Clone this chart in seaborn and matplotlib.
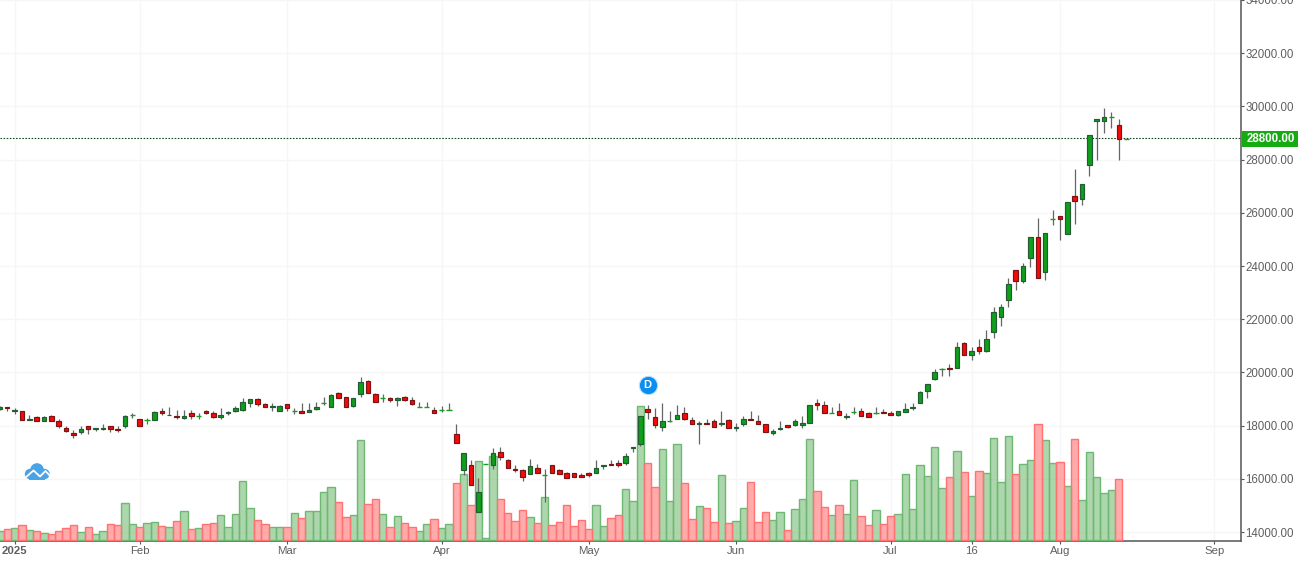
import matplotlib
matplotlib.use("Agg")
import matplotlib.pyplot as plt
from matplotlib.patches import Circle, Rectangle
import numpy as np
import pandas as pd
import seaborn as sns

first_session = -2
opens = [
    18630,18700,18540,18550,18200,18330,18160,18360,18180,17910,
    17720,17770,17990,17860,17860,17990,17870,17970,18380,18250,
    18210,18200,18550,18390,18360,18300,18480,18360,18550,18480,
    18310,18460,18550,18580,18850,19000,18820,18690,18540,18820,
    18550,18550,18500,18640,18840,18700,19230,19080,18730,19180,
    19680,19190,19030,19040,18970,19080,18970,18700,18700,18590,
    18600,18600,17690,16320,16520,14750,16550,16510,17010,16710,
    16380,16330,16180,16410,16140,16510,16330,16220,16210,16140,
    16220,16220,16470,16560,16600,16580,17150,17300,18630,18330,
    17940,18160,18240,18480,18210,18050,18100,18180,18050,18210,
    17900,18060,18250,18180,18050,17720,17860,18030,18010,18010,
    18100,18850,18780,18480,18550,18310,18510,18550,18480,18480,
    18510,18480,18400,18510,18650,18850,19300,19760,20110,20150,
    20170,21090,20660,20940,20810,21530,22090,22730,23830,23450,
    24300,25070,23780,25780,25860,25210,26610,26520,27800,29460,
    29460,29590,29290,28770,
]
highs = [
    18730,18700,18660,18550,18380,18350,18350,18380,18230,18000,
    17840,17970,17990,17910,18040,17990,17990,18380,18480,18250,
    18290,18540,18660,18680,18580,18600,18580,18480,18590,18560,
    18660,18560,18750,19040,19000,19040,18850,18830,18790,18820,
    18660,18830,18830,18890,19080,19200,19250,19080,19040,19830,
    19730,19230,19170,19070,19080,19100,19080,18890,18870,18700,
    18730,18830,18040,16960,16720,16030,16550,17160,17200,16750,
    16530,16350,16760,16570,16350,16510,16380,16260,16210,16220,
    16260,16720,16520,16720,16720,16970,17200,18350,18790,18670,
    18830,18530,18790,18680,18340,18190,18250,18250,18530,18250,
    18100,18360,18530,18380,18050,17880,18190,18030,18250,18360,
    18780,18980,18930,18700,18830,18480,18700,18670,18510,18700,
    18630,18550,18550,18830,18830,19300,19570,20110,20180,20310,
    21140,21140,20940,21250,21590,22450,22550,23550,23830,24100,
    25100,25800,25220,26100,25860,26390,27640,27060,28910,29510,
    29940,29790,29520,28770,
]
lows = [
    18580,18540,18430,18200,18200,18160,18160,18160,17920,17750,
    17550,17700,17700,17810,17850,17740,17750,17890,18280,17970,
    18040,18200,18410,18380,18230,18260,18260,18260,18440,18290,
    18230,18410,18500,18540,18680,18730,18690,18540,18540,18560,
    18430,18460,18500,18600,18760,18700,19020,18700,18690,19080,
    19220,18890,18890,18890,18730,18920,18770,18690,18690,18480,
    18510,18580,17350,16160,15770,14750,16550,16350,16720,16410,
    16250,15910,16180,16210,15120,16210,16170,16030,16070,16070,
    16060,16220,16360,16510,16450,16510,17000,17250,18230,17910,
    17790,18130,18230,18200,18060,17290,18050,17950,17980,17910,
    17780,17980,18200,18050,17750,17640,17830,17910,18000,17900,
    18100,18580,18460,18460,18390,18240,18440,18360,18310,18430,
    18460,18400,18350,18510,18580,18850,19030,19710,19860,19860,
    20170,20660,20460,20680,20760,21290,21740,22450,23090,23370,
    23970,23530,23470,25530,24980,25210,25570,26290,27380,27990,
    29000,29180,27990,28770,
]
closes = [
    18680,18650,18600,18200,18250,18160,18310,18160,17970,17790,
    17640,17870,17860,17910,17890,17860,17820,18360,18380,17970,
    18210,18510,18490,18410,18310,18360,18350,18360,18460,18310,
    18400,18510,18660,18890,19000,18800,18690,18750,18740,18650,
    18550,18460,18600,18710,18840,19140,19040,18700,19040,19640,
    19220,18890,19030,18970,19040,18970,18820,18700,18700,18480,
    18600,18600,17350,16960,15770,15500,16550,16960,16810,16410,
    16320,16070,16470,16210,16140,16210,16170,16030,16070,16070,
    16130,16410,16520,16510,16510,16860,17200,18350,18510,18030,
    18180,18160,18400,18240,18060,18100,18050,17950,18100,17910,
    17950,18250,18200,18050,17750,17800,17910,17940,18180,18100,
    18780,18770,18460,18480,18390,18360,18510,18360,18310,18480,
    18460,18400,18550,18630,18700,19270,19570,20020,20110,20110,
    20940,20660,20790,20810,21270,22250,22440,23310,23450,23990,
    25070,23550,25220,25780,25770,26390,26450,27060,28910,29510,
    29590,29590,28750,28770,
]
volumes = [
    26,32,35,44,29,26,20,17,26,35,
    44,23,38,17,26,47,44,110,47,38,
    50,53,41,38,56,86,32,35,47,50,
    74,38,77,176,95,59,47,38,38,38,
    80,65,86,86,143,158,113,68,74,299,
    107,122,77,38,71,50,38,26,47,62,
    35,47,170,197,104,236,5,251,122,80,
    56,89,68,50,128,44,53,104,41,59,
    32,104,41,65,74,152,116,401,230,158,
    272,116,287,170,62,101,95,53,194,50,
    56,95,173,53,83,59,83,29,92,122,
    302,146,98,74,104,77,179,71,44,89,
    47,71,77,197,92,224,191,278,155,188,
    266,203,131,206,200,305,173,311,197,227,
    239,347,299,230,233,161,302,119,263,188,
    140,149,182,0,
]
tick_sessions = [0, 17, 37, 58, 78, 98, 119, 130, 142, 163]
tick_labels = ["2025", "Feb", "Mar", "Apr", "May", "Jun", "Jul", "16", "Aug", "Sep"]
price_ticks = list(range(14000, 36000, 2000))
last_price = 28800
dividend_session = 86
dividend_level = 19535

GREEN, RED = "#0f9f1b", "#f50a0a"
GREEN_EDGE, RED_EDGE = "#235c34", "#7a1414"
DOJI = "#13a01c"
WICK = "#666666"
TEXT = "#5f5f5f"
AXIS = "#555555"
GRID = "#f6f6f6"

sns.set_theme(style="white")
plt.rcParams["font.family"] = ["Liberation Sans", "DejaVu Sans"]

df = pd.DataFrame({"open": opens, "high": highs, "low": lows, "close": closes, "volume": volumes})
df["session"] = np.arange(len(df)) + first_session

fig = plt.figure(figsize=(13, 5.62), dpi=100, facecolor="white")
rect = [0, 21 / 562, 1241 / 1300, 541 / 562]
ax = fig.add_axes(rect, zorder=1)
ax_vol = ax.twinx()
ax_c = ax.twinx()
ax_vol.set_zorder(2)
ax_c.set_zorder(3)
for a in (ax_vol, ax_c):
    a.patch.set_visible(False)

xlim = (-1.98, 166.6)
ylim = (13662, 33992)

# volume bars
df["direction"] = np.where(df["close"] >= df["open"], "up", "down")
plot_df = df[df["volume"] > 0]
sns.barplot(data=plot_df, x="session", y="volume", hue="direction",
            hue_order=["up", "down"], palette={"up": "#8cc78c", "down": "#ff8a8a"},
            native_scale=True, dodge=False, width=1.0, legend=False, ax=ax_vol,
            saturation=1)
edges = {"up": "#6fb873", "down": "#ff7272"}
fills = {"up": (0.475, 0.745, 0.475, 0.62), "down": (1.0, 0.50, 0.50, 0.66)}
for cont, key in zip(ax_vol.containers, ["up", "down"]):
    for p in cont:
        p.set_facecolor(fills[key])
        p.set_edgecolor(edges[key])
        p.set_linewidth(1.0)
ax_vol.set_ylim(-3, 1620)
ax_vol.set_xlabel("")
ax_vol.set_ylabel("")
ax_vol.set_yticks([])
ax_vol.grid(False)
for sp in ax_vol.spines.values():
    sp.set_visible(False)

# candles
ax_c.set_ylim(ylim)
ax_c.set_yticks([])
ax_c.grid(False)
for sp in ax_c.spines.values():
    sp.set_visible(False)
ax_c.vlines(df["session"], df["low"], df["high"], color=WICK, linewidth=0.9, zorder=2)
up = df["close"] > df["open"]
flat = df["close"] == df["open"]
down = df["close"] < df["open"]
body_w = 0.62
for mask, col, edge in ((up, GREEN, GREEN_EDGE), (down, RED, RED_EDGE)):
    sub = df[mask]
    lo = sub[["open", "close"]].min(axis=1)
    ax_c.bar(sub["session"], (sub["close"] - sub["open"]).abs(), bottom=lo, width=body_w,
             color=col, edgecolor=edge, linewidth=0.85, zorder=3)
sub = df[flat]
ax_c.hlines(sub["close"], sub["session"] - body_w / 2 - 0.05, sub["session"] + body_w / 2 + 0.05,
            color=DOJI, linewidth=1.0, zorder=3)

# last price line and tag
ax_c.axhline(last_price, color="#12401c", linewidth=0.8, linestyle=(0, (1.4, 1.4)), zorder=1)
y_last = (last_price - ylim[0]) / (ylim[1] - ylim[0])
tag_y = (21 + 541 * y_last - 0.6) / 562
fig.add_artist(Rectangle((1241.5 / 1300, tag_y - 8 / 562), 56.5 / 1300, 16 / 562,
                         transform=fig.transFigure, facecolor="#16ab12", edgecolor="none", zorder=10))
fig.text(1246.5 / 1300, tag_y - 0.2 / 562, f"{last_price:.2f}", color="white", fontweight="bold",
         fontsize=8.3, ha="left", va="center", zorder=11)

# dividend badge
ax_c.scatter([dividend_session], [dividend_level], s=175, color="#0a8ff0", edgecolor="#bfe0fb",
             linewidth=0.8, zorder=5)
ax_c.text(dividend_session, dividend_level, "D", color="white", fontweight="bold", fontsize=8,
          ha="center", va="center", zorder=6)

# cloud logo
H = 562
blue = "#4aa3e6"
for cx, cy, r in ((30, 474, 5.2), (37, 470, 6.8), (44.5, 474, 5.2)):
    fig.add_artist(Circle((cx, H - cy), r, transform=None, facecolor=blue, edgecolor="none", zorder=10))
fig.add_artist(Rectangle((29, H - 479.5), 16, 6, transform=None, facecolor=blue, edgecolor="none", zorder=10))
fig.add_artist(plt.Line2D([25, 33.5, 40, 45.5, 51], [H - 478, H - 470.5, H - 476.5, H - 471, H - 477],
                          transform=None, color="white", linewidth=1.3, zorder=11))

# base axis: ticks are set last because the twin axes share this x axis
ax.set_xlim(xlim)
ax.set_ylim(ylim)
ax.set_xticks(tick_sessions)
ax.set_xticklabels(tick_labels)
ax.set_yticks(price_ticks)
ax.set_yticklabels([f"{v:.2f}" for v in price_ticks])
ax.yaxis.tick_right()
ax.grid(True, color=GRID, linewidth=1.0)
ax.tick_params(axis="x", length=2.2, width=0.8, color=AXIS, labelcolor=TEXT, labelsize=8.2, pad=1.5, bottom=True)
ax.tick_params(axis="y", length=2.2, width=0.8, color=AXIS, labelcolor=TEXT, labelsize=8.3, pad=1, right=True)
for name, sp in ax.spines.items():
    sp.set_visible(name in ("right", "bottom"))
    sp.set_color(AXIS)
    sp.set_linewidth(1.1)
ax.get_xticklabels()[0].set_fontweight("bold")

fig.savefig("out.png", dpi=100, facecolor="white")
